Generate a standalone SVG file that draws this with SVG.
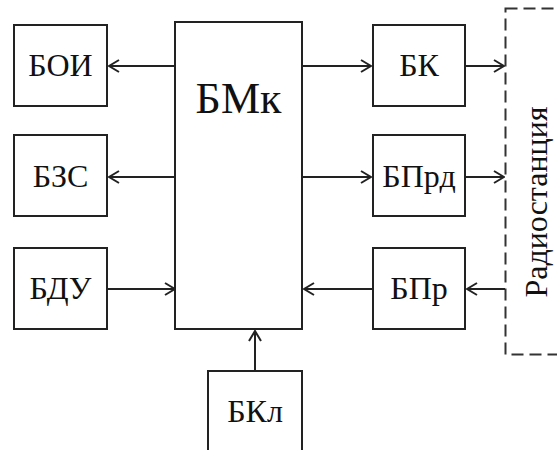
<svg xmlns="http://www.w3.org/2000/svg" width="557" height="450" viewBox="0 0 557 450">
<defs>
<marker id="ah" viewBox="0 0 12 14" refX="11" refY="7" markerWidth="12" markerHeight="14" markerUnits="userSpaceOnUse" orient="auto">
<path d="M1,1 L11,7 L1,13" fill="none" stroke="#222" stroke-width="2"/>
</marker>
</defs>
<rect width="557" height="450" fill="#fff"/>
<g id="nodes" font-family="Liberation Serif" font-size="32" text-anchor="middle">
<g id="radio">
<rect x="505.5" y="8.5" width="70" height="346" fill="none" stroke="#333" stroke-width="2" stroke-dasharray="12 6"/>
<text fill="#111" transform="translate(547,202) rotate(-90)">Радиостанция</text>
</g>
<g fill="#fff" stroke="#222" stroke-width="2">
<rect id="bmk-box" x="175" y="22" width="127" height="307"/>
<rect x="14" y="25" width="93" height="81"/>
<rect x="14" y="135" width="93" height="81"/>
<rect x="14" y="248" width="93" height="81"/>
<rect x="373" y="25" width="92" height="81"/>
<rect x="373" y="135" width="92" height="81"/>
<rect x="373" y="248" width="92" height="81"/>
<rect x="208" y="371" width="94" height="90"/>
</g>
<g fill="#111">
<text id="bmk" x="238.5" y="113" font-size="44">БМк</text>
<text id="boi" x="60.5" y="76">БОИ</text>
<text id="bzs" x="60.5" y="187">БЗС</text>
<text id="bdu" x="60.5" y="299">БДУ</text>
<text id="bk" x="419" y="76">БК</text>
<text id="bprd" x="419" y="187">БПрд</text>
<text id="bpr" x="419" y="299">БПр</text>
<text id="bkl" x="255" y="422">БКл</text>
</g>
</g>
<g id="connectors" stroke="#222" stroke-width="2" fill="none" marker-end="url(#ah)">
<line x1="175" y1="66" x2="109" y2="66"/>
<line x1="175" y1="177" x2="109" y2="177"/>
<line x1="107" y1="289" x2="175" y2="289"/>
<line x1="302" y1="66" x2="371" y2="66"/>
<line x1="302" y1="177" x2="371" y2="177"/>
<line x1="373" y1="289" x2="304" y2="289"/>
<line x1="465" y1="66" x2="504" y2="66"/>
<line x1="465" y1="177" x2="504" y2="177"/>
<line x1="505" y1="289" x2="467" y2="289"/>
<line x1="255" y1="371" x2="255" y2="331"/>
</g>
</svg>
